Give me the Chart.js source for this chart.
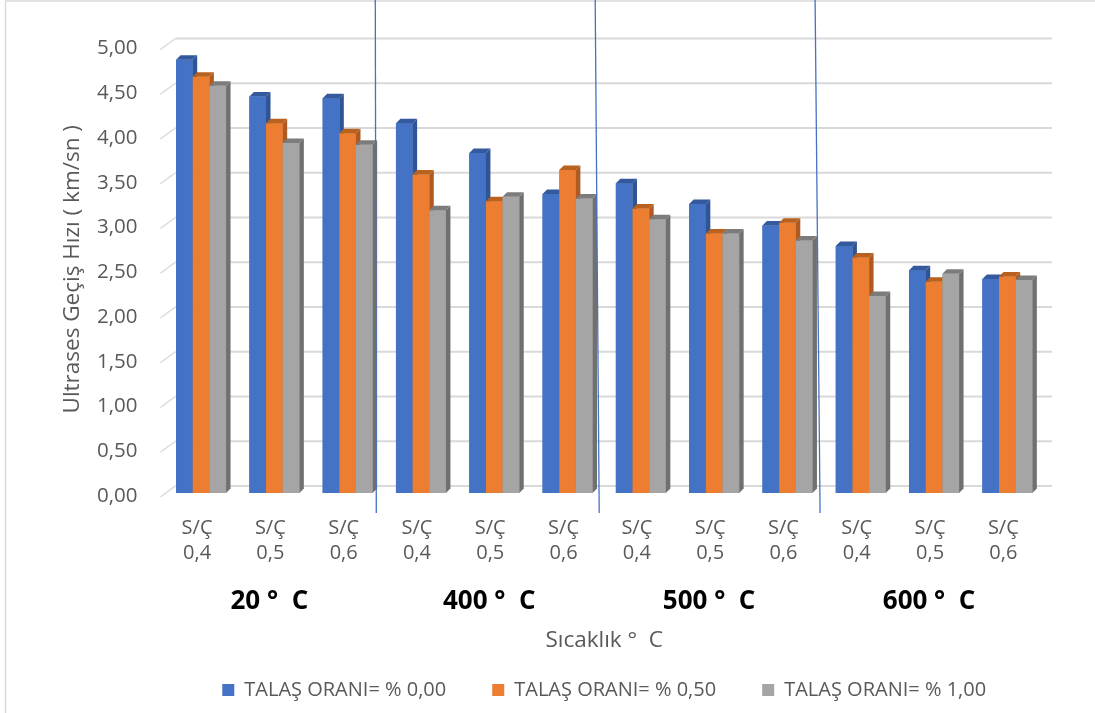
<!DOCTYPE html>
<html>
<head>
<meta charset="utf-8">
<script src="https://cdn.jsdelivr.net/npm/chart.js@4.4.1/dist/chart.umd.min.js"></script>
<style>
  html, body { margin: 0; padding: 0; background: #ffffff; }
  canvas { display: block; }
</style>
</head>
<body>
<canvas id="chart" width="1095" height="713"></canvas>
<script>
// S/Ç ratio per temperature block
const categories = [
  ['S/Ç', '0,4'], ['S/Ç', '0,5'], ['S/Ç', '0,6'],
  ['S/Ç', '0,4'], ['S/Ç', '0,5'], ['S/Ç', '0,6'],
  ['S/Ç', '0,4'], ['S/Ç', '0,5'], ['S/Ç', '0,6'],
  ['S/Ç', '0,4'], ['S/Ç', '0,5'], ['S/Ç', '0,6']
];
const temperatureGroups = ['20 °  C', '400 °  C', '500 °  C', '600 °  C'];

const seriesNames = ['TALAŞ ORANI= % 0,00', 'TALAŞ ORANI= % 0,50', 'TALAŞ ORANI= % 1,00'];
const talas000 = [4.84, 4.43, 4.41, 4.13, 3.80, 3.34, 3.46, 3.23, 2.99, 2.76, 2.49, 2.39];
const talas050 = [4.65, 4.13, 4.02, 3.56, 3.26, 3.61, 3.18, 2.90, 3.02, 2.63, 2.36, 2.42];
const talas100 = [4.55, 3.91, 3.89, 3.16, 3.31, 3.29, 3.06, 2.90, 2.82, 2.20, 2.45, 2.38];

const yTickValues = [0, 0.5, 1, 1.5, 2, 2.5, 3, 3.5, 4, 4.5, 5];
const yTickLabels = ['0,00', '0,50', '1,00', '1,50', '2,00', '2,50', '3,00', '3,50', '4,00', '4,50', '5,00'];

const yTitle = 'Ultrases Geçiş Hızı ( km/sn )';
const xTitle = 'Sıcaklık °  C';

// styling
const FONT = "'Open Sans', 'Noto Sans', sans-serif";
const TEXT = '#595959';
const frontColors = ['#4472C4', '#ED7D31', '#A5A5A5'];
const sideColors = ['#2F5597', '#AE5A21', '#707070'];
const topColors = ['#34599C', '#B9611F', '#7C7C7C'];
const BAR_DEPTH = { dx: 4.5, dy: 4.5 };
const WALL = { dx: 10, dy: 7 };
const SEPARATOR_TILT = [1, 4, 5];

// back wall gridlines and the short slanted ticks joining them to the value axis
const backWall = {
  id: 'backWall',
  beforeDatasetsDraw(chart) {
    const { ctx, chartArea, scales } = chart;
    const y = scales.y;
    ctx.save();
    ctx.strokeStyle = '#d9d9d9';
    y.ticks.forEach(t => {
      const py = y.getPixelForValue(t.value);
      ctx.lineWidth = 2;
      ctx.beginPath();
      ctx.moveTo(chartArea.left + WALL.dx + 1, py - WALL.dy);
      ctx.lineTo(chartArea.right + 8, py - WALL.dy);
      ctx.stroke();
      ctx.lineWidth = 1.5;
      ctx.beginPath();
      ctx.moveTo(chartArea.left - 4, py + 4);
      ctx.lineTo(chartArea.left + WALL.dx + 1, py - WALL.dy);
      ctx.stroke();
    });
    ctx.restore();
  }
};

// columns are painted left to right, each with its side and top face,
// so a neighbour's front face covers the side face it hides
const barFaces = {
  id: 'barFaces',
  afterDatasetsDraw(chart) {
    const ctx = chart.ctx;
    const { dx, dy } = BAR_DEPTH;
    const metas = chart.data.datasets.map((_, i) => chart.getDatasetMeta(i));
    ctx.save();
    for (let j = 0; j < categories.length; j++) {
      metas.forEach((meta, i) => {
        const bar = meta.data[j];
        if (!bar) return;
        bar.draw(ctx);
        const { x, y, base, width } = bar.getProps(['x', 'y', 'base', 'width'], true);
        const l = x - width / 2, r = x + width / 2;
        ctx.fillStyle = sideColors[i];
        ctx.beginPath();
        ctx.moveTo(r, y);
        ctx.lineTo(r + dx, y - dy);
        ctx.lineTo(r + dx, base - dy);
        ctx.lineTo(r, base);
        ctx.closePath();
        ctx.fill();
        ctx.fillStyle = topColors[i];
        ctx.beginPath();
        ctx.moveTo(l, y);
        ctx.lineTo(l + dx, y - dy);
        ctx.lineTo(r + dx, y - dy);
        ctx.lineTo(r, y);
        ctx.closePath();
        ctx.fill();
      });
    }
    ctx.restore();
  }
};

// blue separators between temperature blocks and the outer frame
const decorations = {
  id: 'decorations',
  afterDraw(chart) {
    const { ctx, chartArea, scales } = chart;
    const x = scales.x;
    ctx.save();
    ctx.strokeStyle = '#d9d9d9';
    ctx.lineWidth = 1.5;
    ctx.beginPath();
    ctx.moveTo(5.5, chart.height);
    ctx.lineTo(5.5, 1);
    ctx.lineTo(chart.width, 1);
    ctx.stroke();

    ctx.strokeStyle = '#4472C4';
    ctx.lineWidth = 1.3;
    [3, 6, 9].forEach((k, j) => {
      const bx = (x.getPixelForValue(k - 1) + x.getPixelForValue(k)) / 2 - 9;
      ctx.beginPath();
      ctx.moveTo(bx, 0);
      ctx.lineTo(bx + SEPARATOR_TILT[j], chartArea.bottom + 20);
      ctx.stroke();
    });
    ctx.restore();
  }
};

const datasets = [talas000, talas050, talas100].map((values, i) => ({
  label: seriesNames[i],
  data: values,
  backgroundColor: frontColors[i],
  borderWidth: 0,
  categoryPercentage: 0.682,
  barPercentage: 1
}));

new Chart(document.getElementById('chart'), {
  type: 'bar',
  data: { labels: categories, datasets },
  plugins: [backWall, barFaces, decorations],
  options: {
    responsive: false,
    animation: false,
    devicePixelRatio: 1,
    layout: { padding: { top: 45.5, left: 0, right: 51, bottom: 3 } },
    plugins: {
      tooltip: { enabled: false },
      legend: {
        position: 'bottom',
        fullSize: false,
        labels: {
          boxWidth: 12,
          boxHeight: 12,
          padding: 46,
          color: TEXT,
          font: { family: FONT, size: 20 }
        }
      }
    },
    scales: {
      x: {
        type: 'category',
        offset: true,
        grid: { display: false, drawTicks: false },
        border: { display: false },
        ticks: {
          color: TEXT,
          padding: 22.5,
          labelOffset: -4,
          maxRotation: 0,
          autoSkip: false,
          font: { family: FONT, size: 20, lineHeight: '25px' }
        },
        afterFit(s) { s.height = 84.5; }
      },
      x2: {
        type: 'category',
        labels: temperatureGroups,
        position: 'bottom',
        offset: true,
        grid: { display: false, drawTicks: false },
        border: { display: false },
        ticks: {
          color: '#000000',
          padding: 11,
          labelOffset: -5,
          maxRotation: 0,
          font: { family: FONT, size: 26, weight: 'bold', lineHeight: '26px' }
        },
        title: {
          display: true,
          text: xTitle,
          color: TEXT,
          font: { family: FONT, size: 22.5, lineHeight: '26px' },
          padding: { top: 0, bottom: -20 }
        },
        afterFit(s) { s.height = 56.5; }
      },
      y: {
        min: 0,
        max: 5,
        grid: { display: false, drawTicks: false },
        border: { display: false },
        afterBuildTicks(s) { s.ticks = yTickValues.map(v => ({ value: v })); },
        ticks: {
          color: TEXT,
          padding: 27,
          labelOffset: 3,
          font: { family: FONT, size: 20.5 },
          callback: (v, i) => yTickLabels[i]
        },
        title: {
          display: true,
          text: yTitle,
          color: TEXT,
          font: { family: FONT, size: 22.5, lineHeight: '26px' },
          padding: { top: 60, bottom: 0 }
        },
        afterFit(s) { s.width = 164.4; }
      }
    }
  }
});
</script>
</body>
</html>
